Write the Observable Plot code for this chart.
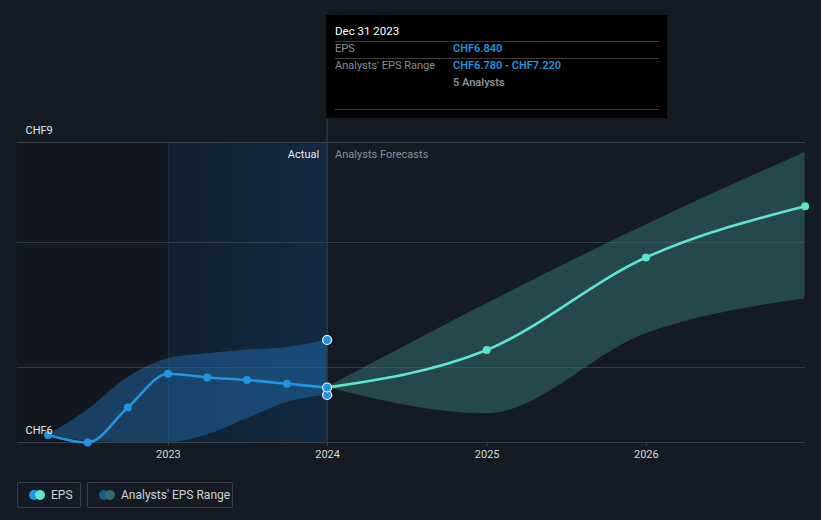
<!DOCTYPE html>
<html>
<head>
<meta charset="utf-8">
<script src="https://cdn.jsdelivr.net/npm/d3@7"></script>
<script src="https://cdn.jsdelivr.net/npm/@observablehq/plot@0.6"></script>
<style>
  html, body { margin: 0; padding: 0; background: #151b24; }
  body { width: 821px; height: 520px; position: relative; overflow: hidden; font-family: Roboto, "Open Sans", sans-serif; }
  #chart { position: absolute; left: 0; top: 0; }
  .tip { position: absolute; left: 326px; top: 15px; width: 341px; height: 103px; background: #000; font-size: 11px; color: #8a8f98; }
  .tip .date { position: absolute; left: 9px; top: 9px; color: #fff; font-size: 11.5px; }
  .tip .sep { position: absolute; left: 9px; width: 324px; height: 1px; background: #3a3d42; }
  .tip .lbl { position: absolute; left: 9px; }
  .tip .val { position: absolute; left: 127px; color: #2394df; font-weight: 600; }
  .tip .cnt { position: absolute; left: 127px; color: #8a8f98; font-weight: 600; }
  .legend { position: absolute; top: 482px; left: 17px; display: flex; gap: 6px; }
  .legend .item { height: 26px; border: 1px solid #3a3f48; border-radius: 2px; display: flex; align-items: center; padding: 0 0 0 11px; color: #cfd3d8; font-size: 12px; box-sizing: border-box; white-space: nowrap; }
  .legend svg { margin-right: 6px; flex: none; }
</style>
</head>
<body>
<div id="chart"></div>
<div class="tip">
  <div class="date">Dec 31 2023</div>
  <div class="sep" style="top:26px"></div>
  <div class="lbl" style="top:27px">EPS</div>
  <div class="val" style="top:27px">CHF6.840</div>
  <div class="sep" style="top:43px"></div>
  <div class="lbl" style="top:44px">Analysts' EPS Range</div>
  <div class="val" style="top:44px">CHF6.780 - CHF7.220</div>
  <div class="cnt" style="top:61px">5 Analysts</div>
  <div class="sep" style="top:94px"></div>
</div>
<div class="legend">
  <div class="item" style="width:64px"><svg width="16" height="10"><circle cx="5" cy="5" r="5" fill="#2394df"/><circle cx="11" cy="5" r="5" fill="#5ee5cf"/></svg>EPS</div>
  <div class="item" style="width:146px"><svg width="16" height="10"><circle cx="5" cy="5" r="5" fill="#1f5a8a"/><circle cx="11" cy="5" r="5" fill="#2f6f6c"/></svg>Analysts' EPS Range</div>
</div>
<script>
// ---- data ----
const pastDates = ["2022-03-31","2022-06-30","2022-09-30","2022-12-31","2023-03-31","2023-06-30","2023-09-30","2023-12-31"];
const pastEPS  = [6.46, 6.40, 6.68, 6.95, 6.92, 6.90, 6.87, 6.84];
const pastHigh = [6.46, 6.66, 6.92, 7.07, 7.11, 7.14, 7.16, 7.22];
const pastLow  = [6.46, 6.41, 6.40, 6.40, 6.46, 6.59, 6.72, 6.78];

const forecastDates = ["2023-12-31","2024-12-31","2025-12-31","2026-12-31"];
const forecastEPS  = [6.84, 7.14, 7.88, 8.29];
const forecastHigh = [6.84, 7.51, 8.14, 8.72];
const forecastLow  = [6.84, 6.63, 7.27, 7.55];

const xDomain = ["2022-01-20", "2027-01-01"];
const xTicks = ["2023-01-01","2024-01-01","2025-01-01","2026-01-01"];
const xTickLabels = ["2023","2024","2025","2026"];
const yDomain = [6.4, 8.8];
const yGrid = [7, 8];
const yFrame = [6.4, 8.8];
const yLabelValues = [8.8, 6.4];
const yLabels = ["CHF9", "CHF6"];
const actualStart = "2023-01-01";
const todayDate = "2023-12-31";
const tooltipTop = 8.992;

// ---- build tables ----
const P = d => new Date(d + "T00:00:00Z");
const past = pastDates.map((d, i) => ({date: P(d), eps: pastEPS[i], hi: pastHigh[i], lo: pastLow[i]}));
const fc = forecastDates.map((d, i) => ({date: P(d), eps: forecastEPS[i], hi: forecastHigh[i], lo: forecastLow[i]}));
const last = past[past.length - 1];
const lastPts = [{date: last.date, v: last.hi}, {date: last.date, v: last.lo}, {date: last.date, v: last.eps}];
const tickMap = new Map(xTicks.map((t, i) => [+P(t), xTickLabels[i]]));

const defs = () => {
  const g = d3.create("svg:defs");
  const lg = g.append("linearGradient").attr("id", "actualGrad").attr("x1", "0").attr("x2", "1").attr("y1", "0").attr("y2", "0");
  lg.append("stop").attr("offset", "0%").attr("stop-color", "#13202e");
  lg.append("stop").attr("offset", "100%").attr("stop-color", "#112a43");
  return g.node();
};

const chart = Plot.plot({
  width: 821,
  height: 470,
  marginLeft: 17,
  marginRight: 16,
  marginTop: 142,
  marginBottom: 28,
  style: {background: "transparent", fontFamily: "Roboto, sans-serif", fontSize: "11px", color: "#d4d7dc", overflow: "visible"},
  x: {type: "utc", domain: xDomain.map(P), axis: null},
  y: {type: "linear", domain: yDomain, axis: null},
  marks: [
    defs,
    // darker area before the actual window
    Plot.rect([{x1: P(xDomain[0]), x2: P(actualStart), y1: yDomain[0], y2: yDomain[1]}], {x1: "x1", x2: "x2", y1: "y1", y2: "y2", fill: "#13181f"}),
    // highlighted "actual" window
    Plot.rect([{x1: P(actualStart), x2: P(todayDate), y1: yDomain[0], y2: yDomain[1]}], {x1: "x1", x2: "x2", y1: "y1", y2: "y2", fill: "url(#actualGrad)"}),
    Plot.ruleX([{x: P(actualStart), y1: yDomain[0], y2: yDomain[1]}], {x: "x", y1: "y1", y2: "y2", stroke: "#17304a", strokeWidth: 1}),
    // grid lines
    Plot.ruleY(yGrid, {stroke: "#3a404a", strokeOpacity: 0.55, strokeWidth: 1}),
    // bands
    Plot.areaY(past, {x: "date", y1: "lo", y2: "hi", fill: "#2482d0", fillOpacity: 0.38, curve: "monotone-x"}),
    Plot.areaY(fc, {x: "date", y1: "lo", y2: "hi", fill: "#4bb3a6", fillOpacity: 0.3, curve: "monotone-x"}),
    Plot.ruleY(yGrid, {stroke: "#55606a", strokeOpacity: 0.25, strokeWidth: 1}),
    // frame lines
    Plot.ruleY(yFrame, {stroke: "#3b4049", strokeWidth: 1.2}),
    // today line (tooltip connector)
    Plot.ruleX([{x: P(todayDate), y1: yDomain[0], y2: tooltipTop}], {x: "x", y1: "y1", y2: "y2", stroke: "#34475a", strokeWidth: 1}),
    // x axis
    Plot.axisX({ticks: xTicks.map(P), tickFormat: d => tickMap.get(+d), tickSize: 4, tickPadding: 4, stroke: "#3b4049", fill: "#d4d7dc", fontSize: 11, label: null}),
    // lines
    Plot.line(fc, {x: "date", y: "eps", stroke: "#5ee5cf", strokeWidth: 2.6, curve: "monotone-x"}),
    Plot.line(past, {x: "date", y: "eps", stroke: "#2394df", strokeWidth: 2.6, curve: "monotone-x"}),
    // dots
    Plot.dot(fc.slice(1), {x: "date", y: "eps", r: 4, fill: "#5ee5cf"}),
    Plot.dot(past.slice(0, -1), {x: "date", y: "eps", r: 4, fill: "#2394df"}),
    Plot.dot(lastPts, {x: "date", y: "v", r: 4.5, fill: "#2394df", stroke: "#ffffff", strokeWidth: 1.2}),
    // y labels
    Plot.text(yLabelValues.map((v, i) => ({x: P(xDomain[0]), v, t: yLabels[i]})), {x: "x", y: "v", text: "t", dx: 8, dy: -12, textAnchor: "start", fill: "#e6e8eb", fontSize: 11}),
    // region labels
    Plot.text([{x: P(todayDate), y: yDomain[1], t: "Actual"}], {x: "x", y: "y", text: "t", dx: -8, dy: 12, textAnchor: "end", fill: "#e6e8eb", fontSize: 11}),
    Plot.text([{x: P(todayDate), y: yDomain[1], t: "Analysts Forecasts"}], {x: "x", y: "y", text: "t", dx: 8, dy: 12, textAnchor: "start", fill: "#8a8f98", fontSize: 11})
  ]
});
document.getElementById("chart").appendChild(chart);
</script>
</body>
</html>
